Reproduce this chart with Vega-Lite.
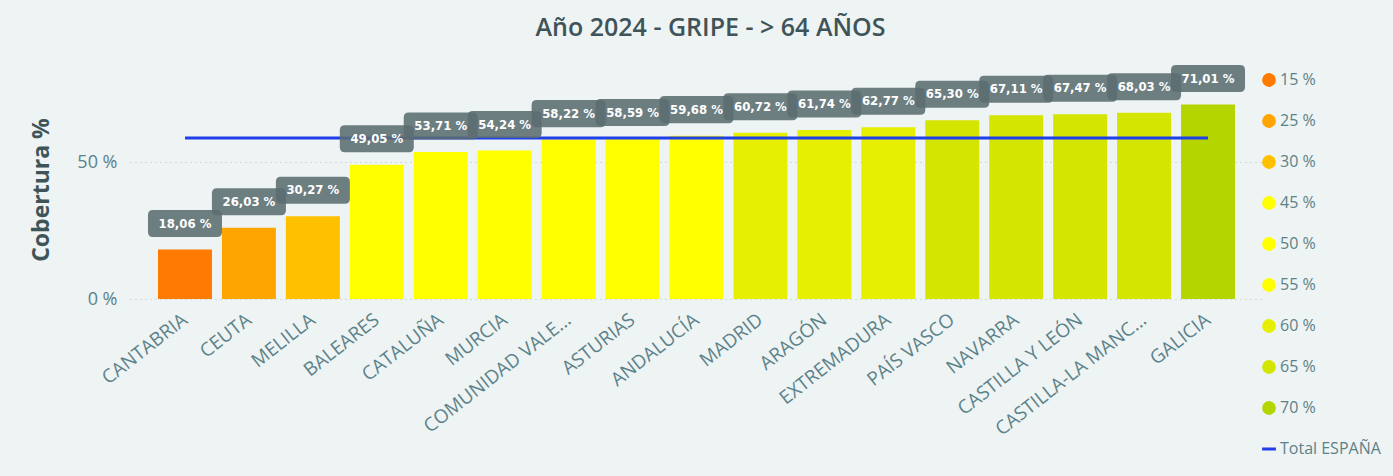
{
  "$schema": "https://vega.github.io/schema/vega-lite/v6.json",
  "width": 1133,
  "height": 219,
  "autosize": {"type": "none"},
  "padding": {"left": 130, "top": 80, "right": 130, "bottom": 177},
  "background": "#eef3f3",
  "title": {
    "text": "Año 2024 - GRIPE - > 64 AÑOS",
    "font": "Open Sans",
    "fontSize": 25,
    "fontWeight": 600,
    "color": "#3f5459",
    "anchor": "middle",
    "dx": 14,
    "offset": 24
  },
  "data": {
    "values": [
      {"region": "CANTABRIA", "value": 18.06, "rango": "15 %"},
      {"region": "CEUTA", "value": 26.03, "rango": "25 %"},
      {"region": "MELILLA", "value": 30.27, "rango": "30 %"},
      {"region": "BALEARES", "value": 49.05, "rango": "45 %"},
      {"region": "CATALUÑA", "value": 53.71, "rango": "50 %"},
      {"region": "MURCIA", "value": 54.24, "rango": "50 %"},
      {"region": "COMUNIDAD VALE...", "value": 58.22, "rango": "55 %"},
      {"region": "ASTURIAS", "value": 58.59, "rango": "55 %"},
      {"region": "ANDALUCÍA", "value": 59.68, "rango": "55 %"},
      {"region": "MADRID", "value": 60.72, "rango": "60 %"},
      {"region": "ARAGÓN", "value": 61.74, "rango": "60 %"},
      {"region": "EXTREMADURA", "value": 62.77, "rango": "60 %"},
      {"region": "PAÍS VASCO", "value": 65.30, "rango": "65 %"},
      {"region": "NAVARRA", "value": 67.11, "rango": "65 %"},
      {"region": "CASTILLA Y LEÓN", "value": 67.47, "rango": "65 %"},
      {"region": "CASTILLA-LA MANC...", "value": 68.03, "rango": "65 %"},
      {"region": "GALICIA", "value": 71.01, "rango": "70 %"}
    ]
  },
  "transform": [
    {"calculate": "replace(format(datum.value, '.2f'), '.', ',') + ' %'", "as": "etiqueta"}
  ],
  "encoding": {
    "x": {
      "field": "region",
      "type": "nominal",
      "sort": null,
      "scale": {"paddingInner": 0.156, "paddingOuter": 0.438},
      "axis": {
        "title": null,
        "labelAngle": -38,
        "labelAlign": "right",
        "labelBaseline": "middle",
        "labelFont": "Open Sans",
        "labelFontSize": 19,
        "labelColor": "#5b8289",
        "labelPadding": 18,
        "ticks": false,
        "domain": false,
        "labelLimit": 300
      }
    }
  },
  "layer": [
    {
      "mark": {"type": "bar"},
      "encoding": {
        "y": {
          "field": "value",
          "type": "quantitative",
          "scale": {"domain": [0, 80], "nice": false},
          "axis": {
            "title": "Cobertura %",
            "titleFont": "Open Sans",
            "titleFontSize": 23,
            "titleFontWeight": "bold",
            "titleColor": "#3f5459",
            "titlePadding": 23,
            "values": [0, 50],
            "labelExpr": "datum.value + ' %'",
            "labelFont": "Open Sans",
            "labelFontSize": 18,
            "labelColor": "#5b8289",
            "labelPadding": 13,
            "ticks": false,
            "domain": false,
            "grid": true,
            "gridColor": "#b8bcbc",
            "gridDash": [1, 4],
            "gridWidth": 1
          }
        },
        "color": {
          "field": "rango",
          "type": "nominal",
          "scale": {
            "domain": ["15 %", "25 %", "30 %", "45 %", "50 %", "55 %", "60 %", "65 %", "70 %", "Total ESPAÑA"],
            "range": ["#ff7a00", "#ffa500", "#ffc000", "#ffff00", "#ffff00", "#ffff00", "#e6ef00", "#d3e500", "#b4d500", "#1f3fe8"]
          },
          "legend": {
            "title": null,
            "orient": "none",
            "legendX": 1131,
            "legendY": -8,
            "symbolType": "circle",
            "symbolSize": 190,
            "symbolStrokeWidth": 0,
            "labelFont": "Open Sans",
            "labelFontSize": 16,
            "labelColor": "#5b8289",
            "labelOffset": 3,
            "rowPadding": 25,
            "padding": 0,
            "encode": {
              "symbols": {
                "update": {
                  "shape": {"signal": "datum.value === 'Total ESPAÑA' ? 'stroke' : 'circle'"},
                  "stroke": {"signal": "datum.value === 'Total ESPAÑA' ? '#1f3fe8' : null"},
                  "strokeWidth": {"signal": "datum.value === 'Total ESPAÑA' ? 3 : 0"}
                }
              }
            }
          }
        }
      }
    },
    {
      "mark": {"type": "line", "strokeWidth": 3},
      "encoding": {
        "y": {"datum": 58.8, "type": "quantitative"},
        "color": {"datum": "Total ESPAÑA"}
      }
    },
    {
      "mark": {
        "type": "point",
        "filled": true,
        "shape": "M -0.865 -0.365 L 0.865 -0.365 Q 1 -0.365 1 -0.23 L 1 0.23 Q 1 0.365 0.865 0.365 L -0.865 0.365 Q -1 0.365 -1 0.23 L -1 -0.23 Q -1 -0.365 -0.865 -0.365 Z",
        "size": 5476,
        "color": "#5b6d71",
        "opacity": 0.88,
        "yOffset": -26
      },
      "encoding": {
        "y": {"field": "value", "type": "quantitative"}
      }
    },
    {
      "mark": {
        "type": "text",
        "font": "DejaVu Sans Condensed",
        "fontSize": 13,
        "fontWeight": "bold",
        "color": "#ffffff",
        "baseline": "middle",
        "align": "center",
        "yOffset": -26
      },
      "encoding": {
        "y": {"field": "value", "type": "quantitative"},
        "text": {"field": "etiqueta"}
      }
    }
  ],
  "config": {
    "view": {"stroke": null}
  }
}
